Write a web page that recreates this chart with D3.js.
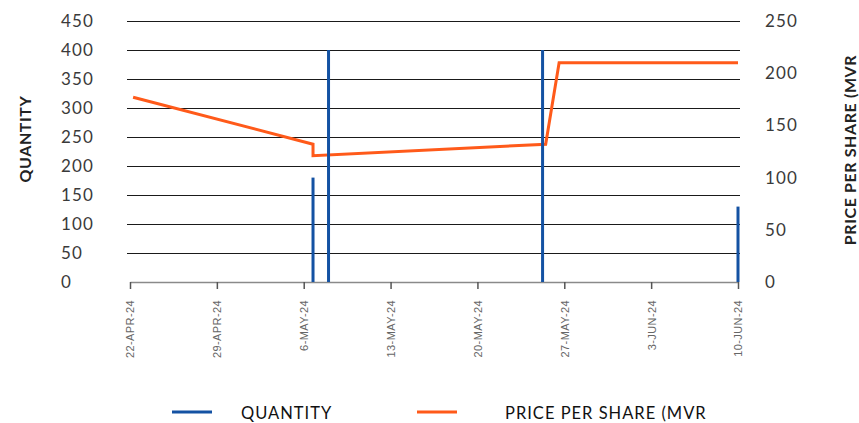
<!DOCTYPE html>
<html lang="en">
<head>
    <meta charset="UTF-8">
    <title>Quantity and price per share</title>
    <script src="https://d3js.org/d3.v7.min.js"></script>
    <style>
    body {
        margin: 0;
        background: #fff;
    }
    .num text {
        font-family: Lato, sans-serif;
        font-weight: 400;
        font-size: 17px;
        letter-spacing: 1.2px;
        fill: #3a3a3a;
    }
    .xaxis text {
        font-family: "Liberation Sans", Arial, sans-serif;
        font-size: 11px;
        letter-spacing: 0.4px;
        fill: #666;
    }
    .xaxis line {
        stroke: #555;
    }
    .title {
        font-family: Lato, sans-serif;
        font-weight: 700;
        font-size: 16px;
        letter-spacing: 0.6px;
        fill: #222;
    }
    .legend text {
        font-family: Lato, sans-serif;
        font-weight: 400;
        font-size: 16.5px;
        letter-spacing: 1px;
        fill: #111;
    }
    </style>
</head>
<body>
    <script>
    var width = 859;
    var height = 423;

    // data
    var qtyDates = ["2024-05-06T18:00", "2024-05-08T00:00", "2024-05-25T06:00", "2024-06-10T00:00"];
    var qtyValues = [180, 400, 400, 130];

    var priceDates = ["2024-04-22T06:00", "2024-05-06T18:00", "2024-05-06T18:00", "2024-05-25T12:00", "2024-05-26T14:00", "2024-06-10T00:00"];
    var priceValues = [177, 132, 121, 132, 210, 210];

    var xTicks = ["2024-04-22", "2024-04-29", "2024-05-06", "2024-05-13", "2024-05-20", "2024-05-27", "2024-06-03", "2024-06-10"];
    var leftTicks = [0, 50, 100, 150, 200, 250, 300, 350, 400, 450];
    var rightTicks = [0, 50, 100, 150, 200, 250];

    var parse = d3.isoParse;
    var qty = qtyDates.map(function(d, i) { return {date: parse(d), value: qtyValues[i]}; });
    var price = priceDates.map(function(d, i) { return {date: parse(d), value: priceValues[i]}; });

    var svg = d3.select("body")
        .append("svg")
        .attr("width", width)
        .attr("height", height);

    // scales
    var xScale = d3.scaleTime()
        .domain([parse(xTicks[0]), parse(xTicks[xTicks.length - 1])])
        .range([130, 738]);

    var yLeft = d3.scaleLinear()
        .domain([0, 450])
        .range([282, 21]);

    var yRight = d3.scaleLinear()
        .domain([0, 250])
        .range([282, 21]);

    // grid lines
    svg.append("g")
        .selectAll("line")
        .data(leftTicks.slice(1))
        .enter()
        .append("line")
        .attr("x1", 127)
        .attr("x2", 740)
        .attr("y1", function(d) { return Math.round(yLeft(d)) + 0.5; })
        .attr("y2", function(d) { return Math.round(yLeft(d)) + 0.5; })
        .attr("stroke", "#1a1a1a")
        .attr("stroke-width", 1);

    // x axis
    var fmt = d3.timeFormat("%-d-%b-%y");
    var xAxis = d3.axisBottom(xScale)
        .tickValues(xTicks.map(parse))
        .tickSize(7)
        .tickSizeOuter(0)
        .tickFormat(function(d) { return fmt(d).toUpperCase(); });

    var gx = svg.append("g")
        .attr("class", "xaxis")
        .attr("transform", "translate(0,282)")
        .call(xAxis);
    gx.select(".domain")
        .attr("stroke", "#8a8a8a")
        .attr("stroke-width", 1.5);
    gx.selectAll(".tick line").attr("stroke-width", 1.5);
    gx.selectAll(".tick text")
        .attr("transform", "rotate(-90)")
        .attr("text-anchor", "end")
        .attr("x", -18)
        .attr("y", 0)
        .attr("dy", "0.35em");

    // left axis (labels left aligned)
    var gl = svg.append("g")
        .attr("class", "num")
        .attr("transform", "translate(61,0)")
        .call(d3.axisRight(yLeft).tickValues(leftTicks).tickSize(0).tickPadding(0));
    gl.select(".domain").remove();

    // right axis
    var gr = svg.append("g")
        .attr("class", "num")
        .attr("transform", "translate(765,0)")
        .call(d3.axisRight(yRight).tickValues(rightTicks).tickSize(0).tickPadding(0));
    gr.select(".domain").remove();

    // price line
    var line = d3.line()
        .x(function(d) { return xScale(d.date); })
        .y(function(d) { return yRight(d.value); });

    svg.append("path")
        .datum(price)
        .attr("d", line)
        .attr("fill", "none")
        .attr("stroke", "#ff5a1a")
        .attr("stroke-width", 3)
        .attr("stroke-linejoin", "miter");

    // quantity bars
    svg.append("g")
        .selectAll("rect")
        .data(qty)
        .enter()
        .append("rect")
        .attr("x", function(d) { return xScale(d.date) - 1.5; })
        .attr("width", 3)
        .attr("y", function(d) { return yLeft(d.value); })
        .attr("height", function(d) { return yLeft(0) - yLeft(d.value); })
        .attr("fill", "#1452a3");

    // axis titles
    svg.append("text")
        .attr("class", "title")
        .attr("transform", "translate(25,139) rotate(-90)")
        .attr("text-anchor", "middle")
        .attr("dy", "0.36em")
        .text("QUANTITY");

    svg.append("text")
        .attr("class", "title")
        .attr("transform", "translate(850,150) rotate(-90)")
        .attr("text-anchor", "middle")
        .attr("dy", "0.36em")
        .text("PRICE PER SHARE (MVR");

    // legend
    var legendItems = [
        {label: "QUANTITY", color: "#1452a3", x: 172, tx: 241},
        {label: "PRICE PER SHARE (MVR", color: "#ff5a1a", x: 417, tx: 505}
    ];
    var lg = svg.append("g").attr("class", "legend");
    lg.selectAll("line")
        .data(legendItems)
        .enter()
        .append("line")
        .attr("x1", function(d) { return d.x; })
        .attr("x2", function(d) { return d.x + 40; })
        .attr("y1", 412)
        .attr("y2", 412)
        .attr("stroke", function(d) { return d.color; })
        .attr("stroke-width", 3);
    lg.selectAll("text")
        .data(legendItems)
        .enter()
        .append("text")
        .attr("x", function(d) { return d.tx; })
        .attr("y", 413)
        .attr("dy", "0.36em")
        .text(function(d) { return d.label; });
    </script>
</body>
</html>
